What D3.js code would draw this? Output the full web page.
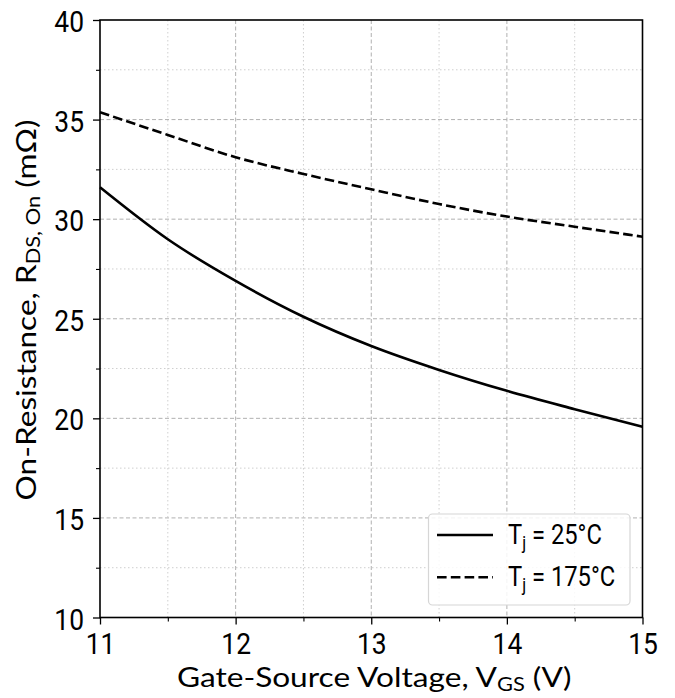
<!DOCTYPE html>
<html><head><meta charset="utf-8">
<script src="https://cdn.jsdelivr.net/npm/d3@7"></script>
<style>
body{margin:0;background:#fff;}
svg{display:block;}
</style></head>
<body>
<svg id="c" width="675" height="698"></svg>
<script>
const vgs = [11, 11.5, 12, 12.5, 13, 13.5, 14, 14.5, 15];
const r25 = [31.6, 28.99, 26.9, 25.1, 23.63, 22.43, 21.38, 20.46, 19.58];
const r175 = [35.37, 34.23, 33.11, 32.27, 31.5, 30.76, 30.13, 29.62, 29.12];
const xTicks = [11, 12, 13, 14, 15];
const yTicks = [10, 15, 20, 25, 30, 35, 40];
const xMinor = [11.5, 12.5, 13.5, 14.5];
const yMinor = [12.5, 17.5, 22.5, 27.5, 32.5, 37.5];

const L = 100, R = 642.5, T = 20, B = 617.5;
const svg = d3.select("#c");
const x = d3.scaleLinear().domain([11, 15]).range([L, R]);
const y = d3.scaleLinear().domain([10, 40]).range([B, T]);
const tickFont = "Roboto, sans-serif";
const sx = 0.88;
const tfs = 30;

// grid minor
const g = svg.append("g");
g.selectAll(".mx").data(xMinor).join("line")
  .attr("x1", d => x(d)).attr("x2", d => x(d)).attr("y1", T).attr("y2", B)
  .attr("stroke", "#cfcfcf").attr("stroke-width", 1).attr("stroke-dasharray", "1.5,2.5");
g.selectAll(".my").data(yMinor).join("line")
  .attr("y1", d => y(d)).attr("y2", d => y(d)).attr("x1", L).attr("x2", R)
  .attr("stroke", "#cfcfcf").attr("stroke-width", 1).attr("stroke-dasharray", "1.5,2.5");
// grid major
g.selectAll(".Mx").data(xTicks.slice(1, -1)).join("line")
  .attr("x1", d => x(d)).attr("x2", d => x(d)).attr("y1", T).attr("y2", B)
  .attr("stroke", "#b0b0b0").attr("stroke-width", 1).attr("stroke-dasharray", "4,2.5");
g.selectAll(".My").data(yTicks.slice(1, -1)).join("line")
  .attr("y1", d => y(d)).attr("y2", d => y(d)).attr("x1", L).attr("x2", R)
  .attr("stroke", "#b0b0b0").attr("stroke-width", 1).attr("stroke-dasharray", "4,2.5");

// curves
const line = d3.line().x(d => x(d[0])).y(d => y(d[1])).curve(d3.curveMonotoneX);
svg.append("path").datum(vgs.map((v, i) => [v, r25[i]]))
  .attr("d", line).attr("fill", "none").attr("stroke", "#000").attr("stroke-width", 2.6);
svg.append("path").datum(vgs.map((v, i) => [v, r175[i]]))
  .attr("d", line).attr("fill", "none").attr("stroke", "#000").attr("stroke-width", 2.6)
  .attr("stroke-dasharray", "9.6,4.2");

// axes
const ax = svg.append("g").attr("transform", `translate(0,${B})`)
  .call(d3.axisBottom(x).tickValues(xTicks).tickSize(7).tickPadding(3).tickFormat(d3.format("d")));
ax.select(".domain").remove();
ax.selectAll("line").attr("stroke-width", 1.3);
ax.selectAll("text").attr("dy", null).attr("y", 37)
  .style("font-family", tickFont).style("font-size", tfs + "px").attr("fill", "#000")
  .attr("transform", `scale(${sx},1)`);
const axm = svg.append("g").attr("transform", `translate(0,${B})`)
  .call(d3.axisBottom(x).tickValues(xMinor).tickSize(4).tickFormat(""));
axm.select(".domain").remove();
axm.selectAll("line").attr("stroke-width", 1.1);

const ay = svg.append("g").attr("transform", `translate(${L},0)`)
  .call(d3.axisLeft(y).tickValues(yTicks).tickSize(7).tickPadding(10).tickFormat(d3.format("d")));
ay.select(".domain").remove();
ay.selectAll("line").attr("stroke-width", 1.3);
ay.selectAll("text").attr("dy", null).attr("y", 11.5)
  .style("font-family", tickFont).style("font-size", tfs + "px").attr("fill", "#000")
  .attr("x", -16 / sx).attr("transform", `scale(${sx},1)`);
const aym = svg.append("g").attr("transform", `translate(${L},0)`)
  .call(d3.axisLeft(y).tickValues(yMinor).tickSize(4).tickFormat(""));
aym.select(".domain").remove();
aym.selectAll("line").attr("stroke-width", 1.1);

// frame
svg.append("rect").attr("x", L).attr("y", T).attr("width", R - L).attr("height", B - T)
  .attr("fill", "none").attr("stroke", "#000").attr("stroke-width", 1.6);

// axis labels
const lblFont = "Lato, sans-serif";
const lfs = 27.5, lsx = 1.15;
const xl = svg.append("text").attr("transform", `translate(${(L + R) / 2 + 3},686.5) scale(${lsx},1)`)
  .attr("text-anchor", "middle").style("font-family", lblFont).style("font-size", lfs + "px").attr("fill", "#000");
xl.append("tspan").text("Gate-Source Voltage, V");
xl.append("tspan").style("font-size", "19px").attr("dy", 4).text("GS");
xl.append("tspan").attr("dy", -4).text(" (V)");

const yl = svg.append("text").attr("transform", `translate(36,310) rotate(-90) scale(${lsx},1)`)
  .attr("text-anchor", "middle").style("font-family", lblFont).style("font-size", lfs + "px").attr("fill", "#000");
yl.append("tspan").text("On-Resistance, R");
yl.append("tspan").style("font-size", "19px").attr("dy", 4).text("DS, On");
yl.append("tspan").attr("dy", -4).text(" (mΩ)");

// legend
const lg = svg.append("g");
lg.append("rect").attr("x", 428.5).attr("y", 514).attr("width", 201.5).attr("height", 91)
  .attr("rx", 4).attr("fill", "#fff").attr("fill-opacity", 0.85)
  .attr("stroke", "#d6d6d6").attr("stroke-width", 1.2);
const items = [{t: "25°C", dash: null, yy: 535}, {t: "175°C", dash: "9.6,4.2", yy: 577.3}];
items.forEach(it => {
  lg.append("line").attr("x1", 437).attr("x2", 493).attr("y1", it.yy).attr("y2", it.yy)
    .attr("stroke", "#000").attr("stroke-width", 2.6).attr("stroke-dasharray", it.dash);
  const t = lg.append("text").attr("transform", `translate(508,${it.yy + 8.5}) scale(${sx},1)`)
    .style("font-family", tickFont).style("font-size", "27px").attr("fill", "#000");
  t.append("tspan").text("T");
  t.append("tspan").style("font-size", "18.5px").attr("dy", 5).text("j");
  t.append("tspan").attr("dy", -5).text(" = " + it.t);
});
</script>
</body></html>
